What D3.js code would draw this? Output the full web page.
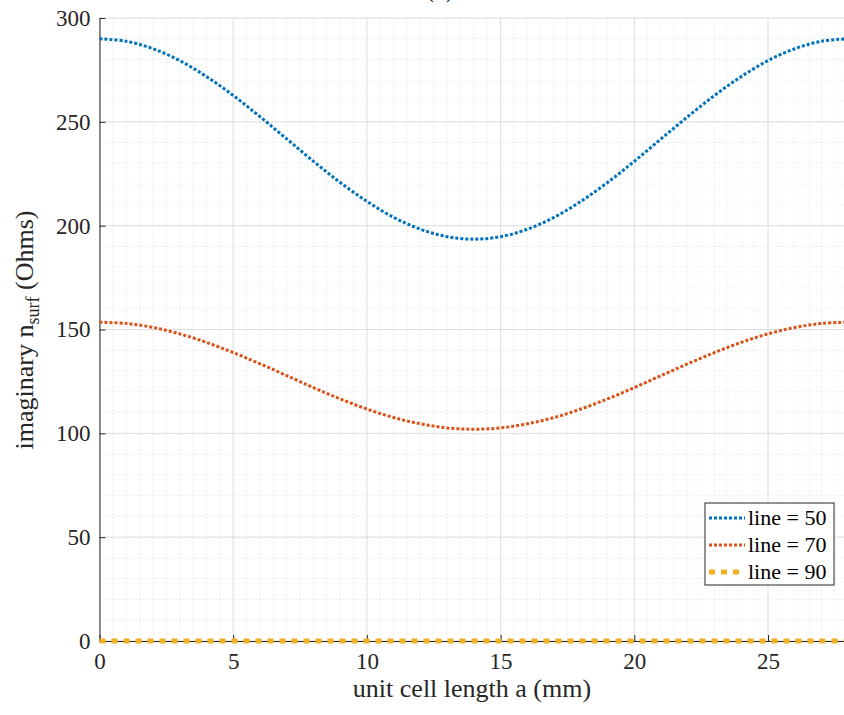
<!DOCTYPE html>
<html lang="en">
<head>
<meta charset="UTF-8">
<script src="https://d3js.org/d3.v7.min.js"></script>
<title>imaginary n surf</title>
<style>
    body { margin: 0; background: white; }
    svg { display: block; font-family: "Liberation Serif", "Times New Roman", serif; }
</style>
</head>
<body>
<script>
    // unit cell length a (mm)
    var cellLength = [0, 1, 2, 3, 4, 5, 6, 7, 8, 9, 10, 11, 12, 13, 14,
                      15, 16, 17, 18, 19, 20, 21, 22, 23, 24, 25, 26, 27, 28];
    // imaginary n_surf (Ohms) per line width
    var line50 = [290, 288.8, 285.2, 279.5, 271.8, 262.7, 252.5, 241.8, 231.0, 220.8, 211.7, 204.0, 198.3, 194.7, 193.5,
                  194.7, 198.3, 204.0, 211.7, 220.8, 231.0, 241.8, 252.5, 262.7, 271.8, 279.5, 285.2, 288.8, 290];
    var line70 = [153.5, 152.9, 151.0, 147.9, 143.8, 138.9, 133.5, 127.8, 122.0, 116.6, 111.7, 107.6, 104.6, 102.6, 102.0,
                  102.6, 104.6, 107.6, 111.7, 116.6, 122.0, 127.8, 133.5, 138.9, 143.8, 147.9, 151.0, 152.9, 153.5];
    var line90 = [0, 0, 0, 0, 0, 0, 0, 0, 0, 0, 0, 0, 0, 0, 0,
                  0, 0, 0, 0, 0, 0, 0, 0, 0, 0, 0, 0, 0, 0];
    var seriesNames = ["line = 50", "line = 70", "line = 90"];
    var xTicks = [0, 5, 10, 15, 20, 25];
    var yTicks = [0, 50, 100, 150, 200, 250, 300];

    var width = 844, height = 715;
    var plotLeft = 99.5, plotTop = 18, plotBottom = 641;

    var svg = d3.select("body").append("svg")
        .attr("width", width)
        .attr("height", height);

    var x = d3.scaleLinear().domain([0, 28]).range([plotLeft, plotLeft + 28 * 26.74]);
    var y = d3.scaleLinear().domain([0, 300]).range([plotBottom, plotTop]);

    // grid
    var grid = svg.append("g");
    grid.selectAll(".mx").data(d3.range(0, 28.01, 0.5)).enter().append("line")
        .attr("x1", d => x(d)).attr("x2", d => x(d))
        .attr("y1", plotTop).attr("y2", plotBottom)
        .attr("stroke", "#dcdcdc").attr("stroke-dasharray", "1,3");
    grid.selectAll(".my").data(d3.range(0, 301, 10)).enter().append("line")
        .attr("x1", plotLeft).attr("x2", width)
        .attr("y1", d => y(d)).attr("y2", d => y(d))
        .attr("stroke", "#dcdcdc").attr("stroke-dasharray", "1,3");
    grid.selectAll(".gx").data(xTicks).enter().append("line")
        .attr("x1", d => x(d)).attr("x2", d => x(d))
        .attr("y1", plotTop).attr("y2", plotBottom)
        .attr("stroke", "#dedede");
    grid.selectAll(".gy").data(yTicks).enter().append("line")
        .attr("x1", plotLeft).attr("x2", width)
        .attr("y1", d => y(d)).attr("y2", d => y(d))
        .attr("stroke", "#dedede");

    // axes
    var xAxis = d3.axisBottom(x).tickValues(xTicks).tickSizeInner(-6).tickSizeOuter(0).tickPadding(12);
    var gx = svg.append("g").attr("transform", `translate(0,${plotBottom})`).call(xAxis)
        .attr("font-family", "Liberation Serif, serif").attr("font-size", 23);
    gx.select(".domain").attr("stroke", "#262626");
    gx.selectAll(".tick line").attr("stroke", "#262626");
    gx.selectAll(".tick text").attr("fill", "#262626");

    var yAxis = d3.axisLeft(y).tickValues(yTicks).tickSizeInner(-6).tickSizeOuter(0).tickPadding(9);
    var gy = svg.append("g").attr("transform", `translate(${plotLeft},0)`).call(yAxis)
        .attr("font-family", "Liberation Serif, serif").attr("font-size", 23);
    gy.select(".domain").attr("stroke", "#262626");
    gy.selectAll(".tick line").attr("stroke", "#262626");
    gy.selectAll(".tick text").attr("fill", "#262626");

    // curves
    var colors = ["#0072BD", "#D95319", "#EDB120"];
    var dashes = ["3,2", "3,2", "6,6"];
    var widths = [3, 3, 5];
    var allSeries = [line50, line70, line90];

    var lineGen = d3.line()
        .x((d, i) => x(cellLength[i]))
        .y(d => y(d))
        .curve(d3.curveCatmullRom);

    allSeries.forEach(function (s, k) {
        svg.append("path")
            .datum(s)
            .attr("d", lineGen)
            .attr("fill", "none")
            .attr("stroke", colors[k])
            .attr("stroke-width", widths[k])
            .attr("stroke-dasharray", dashes[k]);
    });

    // labels
    svg.append("text")
        .attr("x", 472).attr("y", 697)
        .attr("text-anchor", "middle")
        .style("font-size", "26px").style("fill", "#262626")
        .text("unit cell length a (mm)");

    var yl = svg.append("text")
        .attr("transform", "translate(33,330) rotate(-90)")
        .attr("text-anchor", "middle")
        .style("font-size", "26px").style("fill", "#262626");
    yl.append("tspan").text("imaginary n");
    yl.append("tspan").attr("dy", 6).style("font-size", "18px").text("surf");
    yl.append("tspan").attr("dy", -6).text(" (Ohms)");

    svg.append("text")
        .attr("x", 440).attr("y", -3)
        .attr("text-anchor", "middle")
        .style("font-size", "26px").style("fill", "#262626")
        .text("(a)");

    // legend
    var lg = svg.append("g").attr("transform", "translate(705,503)");
    lg.append("rect").attr("width", 129).attr("height", 82)
        .attr("fill", "white").attr("stroke", "#262626");
    seriesNames.forEach(function (name, k) {
        var ly = 15 + k * 27;
        lg.append("line")
            .attr("x1", 4).attr("x2", 40)
            .attr("y1", ly).attr("y2", ly)
            .attr("stroke", colors[k])
            .attr("stroke-width", widths[k])
            .attr("stroke-dasharray", dashes[k]);
        lg.append("text")
            .attr("x", 43).attr("y", ly + 7)
            .style("font-size", "22px").style("fill", "#000")
            .text(name);
    });
</script>
</body>
</html>
